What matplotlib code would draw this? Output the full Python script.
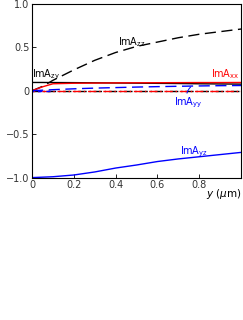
import matplotlib
matplotlib.use("Agg")
import matplotlib.pyplot as plt
import numpy as np

y_pos = [0.0, 0.05, 0.1, 0.2, 0.3, 0.4, 0.5, 0.6, 0.7, 0.8, 0.9, 1.0]
im_zz = [0.0, 0.05, 0.12, 0.24, 0.35, 0.44, 0.51, 0.56, 0.61, 0.65, 0.68, 0.71]
im_zy = [0.095, 0.095, 0.094, 0.093, 0.091, 0.089, 0.087, 0.085, 0.083, 0.080, 0.078, 0.076]
im_xx = [0.0, 0.045, 0.08, 0.086, 0.088, 0.090, 0.091, 0.092, 0.093, 0.094, 0.094, 0.095]
im_yy = [0.0, 0.006, 0.012, 0.022, 0.030, 0.036, 0.042, 0.047, 0.051, 0.055, 0.058, 0.060]
im_yz = [-1.0, -0.995, -0.99, -0.97, -0.935, -0.89, -0.855, -0.815, -0.785, -0.76, -0.735, -0.71]
zero_line = [0.0] * len(y_pos)

fig = plt.figure(figsize=(2.43, 3.2), dpi=100)
ax = fig.add_axes([0.132, 0.445, 0.86, 0.543])

ax.plot(y_pos, zero_line, color="black", lw=1.0, ls=(0, (6, 2, 1, 2)))
ax.plot(y_pos, zero_line, color="red", lw=1.0, ls=(4, (6, 2, 1, 2)))
ax.plot(y_pos[:3], zero_line[:3], color="blue", lw=1.0, ls=(2, (3, 3)))
ax.plot(y_pos, im_zz, color="black", lw=1.0, ls=(0, (8, 4)))
ax.plot(y_pos, im_zy, color="black", lw=1.0)
ax.plot(y_pos, im_xx, color="red", lw=1.0)
ax.plot(y_pos, im_yy, color="blue", lw=1.0, ls=(0, (8, 4)))
ax.plot(y_pos, im_yz, color="blue", lw=1.0)

fs = 7
ax.text(0.41, 0.52, r"ImA$_{\mathregular{zz}}$", color="black", fontsize=fs)
ax.text(0.0, 0.16, r"ImA$_{\mathregular{zy}}$", color="black", fontsize=fs)
ax.text(0.995, 0.15, r"ImA$_{\mathregular{xx}}$", color="red", fontsize=fs, ha="right")
ax.text(0.68, -0.17, r"ImA$_{\mathregular{yy}}$", color="blue", fontsize=fs)
ax.annotate("", xy=(0.77, 0.06), xytext=(0.74, -0.06),
            arrowprops=dict(arrowstyle="-", color="blue", lw=0.7,
                            connectionstyle="arc3,rad=-0.3"))
ax.text(0.71, -0.73, r"ImA$_{\mathregular{yz}}$", color="blue", fontsize=fs)

ax.set_xlim(0, 1)
ax.set_ylim(-1, 1)
ax.set_xticks([0, 0.2, 0.4, 0.6, 0.8])
ax.set_xticklabels(["0", "0.2", "0.4", "0.6", "0.8"])
ax.set_yticks([-1.0, -0.5, 0, 0.5, 1.0])
ax.set_yticklabels(["\u22121.0", "\u22120.5", "0", "0.5", "1.0"])
ax.tick_params(direction="in", labelsize=fs, length=3, width=0.6,
               labelcolor="#333333", pad=2)
for s in ax.spines.values():
    s.set_linewidth(0.8)

fig.text(0.995, 0.395, r"$\it{y}$ ($\mu$m)", ha="right", va="center", fontsize=7.5)

fig.savefig("out.png", dpi=100)
